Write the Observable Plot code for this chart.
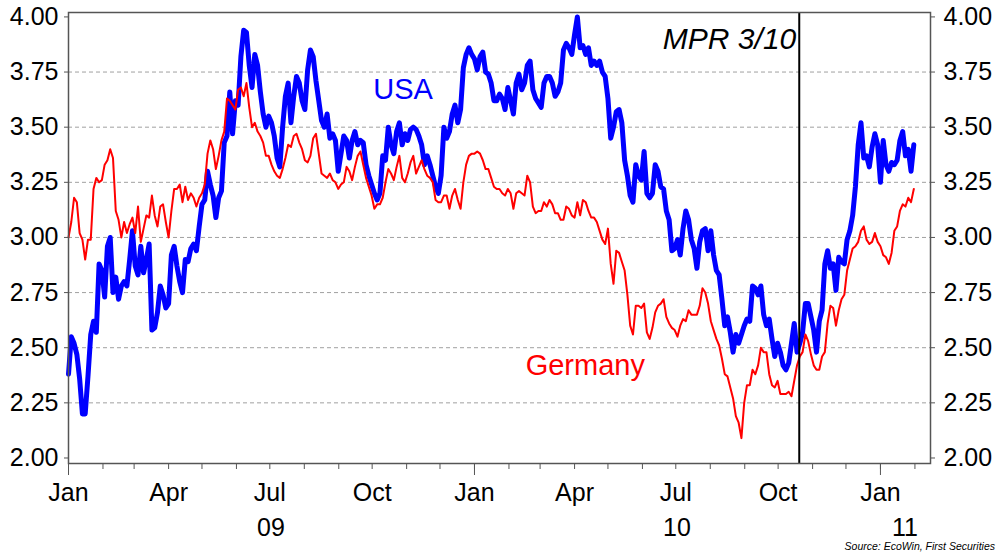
<!DOCTYPE html>
<html><head><meta charset="utf-8">
<script src="https://cdn.jsdelivr.net/npm/d3@7"></script>
<script src="https://cdn.jsdelivr.net/npm/@observablehq/plot@0.6"></script>
<style>
body{margin:0;background:#fff;width:1000px;height:552px;overflow:hidden;font-family:"Liberation Sans",Arial,sans-serif}
#caption{height:12px;line-height:12px;font-size:10.5px;font-style:italic;text-align:right;padding-right:5px;color:#000}
</style></head><body><div id="chart"></div><div id="caption">Source: EcoWin, First Securities</div>
<script>
// Observations on even 5-day marks
const datesA = [
"2009-01-01","2009-01-06","2009-01-11","2009-01-16","2009-01-21","2009-01-26","2009-01-31",
"2009-02-05","2009-02-10","2009-02-15","2009-02-20","2009-02-25",
"2009-03-02","2009-03-07","2009-03-12","2009-03-17","2009-03-22","2009-03-27",
"2009-04-01","2009-04-06","2009-04-11","2009-04-16","2009-04-21","2009-04-26",
"2009-05-01","2009-05-06","2009-05-11","2009-05-16","2009-05-21","2009-05-26","2009-05-31",
"2009-06-05","2009-06-10","2009-06-15","2009-06-20","2009-06-25","2009-06-30",
"2009-07-05","2009-07-10","2009-07-15","2009-07-20","2009-07-25","2009-07-30",
"2009-08-04","2009-08-09","2009-08-14","2009-08-19","2009-08-24","2009-08-29",
"2009-09-03","2009-09-08","2009-09-13","2009-09-18","2009-09-23","2009-09-28",
"2009-10-03","2009-10-08","2009-10-13","2009-10-18","2009-10-23","2009-10-28",
"2009-11-02","2009-11-07","2009-11-12","2009-11-17","2009-11-22","2009-11-27",
"2009-12-02","2009-12-07","2009-12-12","2009-12-17","2009-12-22","2009-12-27",
"2010-01-01","2010-01-06","2010-01-11","2010-01-16","2010-01-21","2010-01-26","2010-01-31",
"2010-02-05","2010-02-10","2010-02-15","2010-02-20","2010-02-25",
"2010-03-02","2010-03-07","2010-03-12","2010-03-17","2010-03-22","2010-03-27",
"2010-04-01","2010-04-06","2010-04-11","2010-04-16","2010-04-21","2010-04-26",
"2010-05-01","2010-05-06","2010-05-11","2010-05-16","2010-05-21","2010-05-26","2010-05-31",
"2010-06-05","2010-06-10","2010-06-15","2010-06-20","2010-06-25","2010-06-30",
"2010-07-05","2010-07-10","2010-07-15","2010-07-20","2010-07-25","2010-07-30",
"2010-08-04","2010-08-09","2010-08-14","2010-08-19","2010-08-24","2010-08-29",
"2010-09-03","2010-09-08","2010-09-13","2010-09-18","2010-09-23","2010-09-28",
"2010-10-03","2010-10-08","2010-10-13","2010-10-18","2010-10-23","2010-10-28",
"2010-11-02","2010-11-07","2010-11-12","2010-11-17","2010-11-22","2010-11-27",
"2010-12-02","2010-12-07","2010-12-12","2010-12-17","2010-12-22","2010-12-27",
"2011-01-01","2011-01-06","2011-01-11","2011-01-16","2011-01-21","2011-01-26","2011-01-31"
];
const usaA = [
2.38,2.52,2.36,2.20,2.56,2.57,2.85,
2.96,2.75,2.72,2.80,2.90,
2.87,2.96,2.90,2.58,2.66,2.74,
2.70,2.96,2.80,2.90,2.95,2.94,
3.15,3.30,3.19,3.18,3.43,3.66,3.62,
3.82,3.93,3.68,3.78,3.56,3.55,
3.46,3.32,3.64,3.52,3.73,3.62,
3.76,3.82,3.62,3.50,3.45,3.44,
3.38,3.44,3.44,3.42,3.43,3.28,
3.20,3.20,3.35,3.42,3.48,3.42,
3.44,3.50,3.46,3.33,3.33,3.23,
3.28,3.45,3.56,3.52,3.77,3.86,
3.81,3.82,3.75,3.70,3.62,3.63,3.68,
3.56,3.74,3.70,3.80,3.63,
3.59,3.73,3.70,3.66,3.85,3.86,
3.92,3.86,3.83,3.78,3.78,3.75,
3.63,3.50,3.58,3.35,3.19,3.33,3.26,
3.20,3.20,3.30,3.22,3.08,2.95,
2.92,3.12,2.99,2.86,3.03,2.94,
2.92,2.83,2.60,2.57,2.56,2.56,
2.63,2.78,2.74,2.65,2.63,2.46,
2.48,2.40,2.52,2.48,2.57,2.70,
2.58,2.62,2.88,2.86,2.76,2.89,
2.99,3.10,3.42,3.36,3.32,3.47,
3.25,3.33,3.34,3.35,3.48,3.40,3.42
];
const germanyA = [
3.00,3.18,3.02,2.90,2.99,3.27,3.26,
3.35,3.36,3.08,3.07,3.06,
3.02,2.98,3.10,3.19,3.05,3.15,
3.00,3.22,3.24,3.23,3.20,3.14,
3.20,3.38,3.40,3.37,3.48,3.62,3.58,
3.68,3.70,3.50,3.48,3.43,3.37,
3.30,3.27,3.36,3.41,3.47,3.40,
3.34,3.45,3.38,3.28,3.29,3.25,
3.24,3.32,3.26,3.37,3.33,3.23,
3.13,3.15,3.25,3.29,3.32,3.27,
3.29,3.37,3.32,3.31,3.27,3.17,
3.16,3.19,3.19,3.17,3.25,3.37,
3.38,3.38,3.31,3.27,3.22,3.20,3.22,
3.13,3.21,3.19,3.25,3.11,
3.12,3.14,3.15,3.11,3.08,3.13,
3.09,3.10,3.16,3.09,3.07,2.99,
3.04,2.79,2.93,2.85,2.60,2.69,2.68,
2.57,2.59,2.69,2.72,2.61,2.58,
2.60,2.62,2.65,2.65,2.77,2.70,
2.58,2.51,2.38,2.32,2.19,2.09,
2.33,2.40,2.42,2.48,2.38,2.32,
2.29,2.29,2.28,2.42,2.48,2.53,
2.42,2.40,2.48,2.69,2.60,2.72,
2.85,2.95,2.98,3.05,2.97,3.02,
2.96,2.91,2.93,3.05,3.15,3.18,3.22
];
// Observations half-way between those marks
const datesB = [
"2009-01-03","2009-01-08","2009-01-13","2009-01-18","2009-01-23","2009-01-28","2009-02-02",
"2009-02-07","2009-02-12","2009-02-17","2009-02-22","2009-02-27",
"2009-03-04","2009-03-09","2009-03-14","2009-03-19","2009-03-24","2009-03-29",
"2009-04-03","2009-04-08","2009-04-13","2009-04-18","2009-04-23","2009-04-28",
"2009-05-03","2009-05-08","2009-05-13","2009-05-18","2009-05-23","2009-05-28","2009-06-02",
"2009-06-07","2009-06-12","2009-06-17","2009-06-22","2009-06-27","2009-07-02",
"2009-07-07","2009-07-12","2009-07-17","2009-07-22","2009-07-27","2009-08-01",
"2009-08-06","2009-08-11","2009-08-16","2009-08-21","2009-08-26","2009-08-31",
"2009-09-05","2009-09-10","2009-09-15","2009-09-20","2009-09-25","2009-09-30",
"2009-10-05","2009-10-10","2009-10-15","2009-10-20","2009-10-25","2009-10-30",
"2009-11-04","2009-11-09","2009-11-14","2009-11-19","2009-11-24","2009-11-29",
"2009-12-04","2009-12-09","2009-12-14","2009-12-19","2009-12-24","2009-12-29",
"2010-01-03","2010-01-08","2010-01-13","2010-01-18","2010-01-23","2010-01-28","2010-02-02",
"2010-02-07","2010-02-12","2010-02-17","2010-02-22","2010-02-27",
"2010-03-04","2010-03-09","2010-03-14","2010-03-19","2010-03-24","2010-03-29",
"2010-04-03","2010-04-08","2010-04-13","2010-04-18","2010-04-23","2010-04-28",
"2010-05-03","2010-05-08","2010-05-13","2010-05-18","2010-05-23","2010-05-28","2010-06-02",
"2010-06-07","2010-06-12","2010-06-17","2010-06-22","2010-06-27","2010-07-02",
"2010-07-07","2010-07-12","2010-07-17","2010-07-22","2010-07-27","2010-08-01",
"2010-08-06","2010-08-11","2010-08-16","2010-08-21","2010-08-26","2010-08-31",
"2010-09-05","2010-09-10","2010-09-15","2010-09-20","2010-09-25","2010-09-30",
"2010-10-05","2010-10-10","2010-10-15","2010-10-20","2010-10-25","2010-10-30",
"2010-11-04","2010-11-09","2010-11-14","2010-11-19","2010-11-24","2010-11-29",
"2010-12-04","2010-12-09","2010-12-14","2010-12-19","2010-12-24","2010-12-29",
"2011-01-03","2011-01-08","2011-01-13","2011-01-18","2011-01-23","2011-01-28"
];
const usaB = [
2.55,2.47,2.20,2.37,2.62,2.88,2.73,
3.00,2.82,2.78,2.78,3.03,
2.83,2.84,2.97,2.59,2.78,2.68,
2.92,2.87,2.75,2.89,2.97,3.05,
3.17,3.24,3.09,3.21,3.46,3.47,3.60,
3.94,3.78,3.83,3.66,3.50,3.52,
3.36,3.50,3.70,3.64,3.70,3.58,
3.85,3.71,3.53,3.56,3.47,3.30,
3.46,3.36,3.48,3.44,3.33,3.24,
3.17,3.37,3.50,3.38,3.52,3.47,
3.49,3.49,3.42,3.37,3.28,3.20,
3.50,3.48,3.60,3.58,3.83,3.83,
3.76,3.84,3.74,3.62,3.65,3.58,3.62,
3.70,3.67,3.78,3.67,3.61,
3.70,3.73,3.64,3.70,3.88,3.83,
4.00,3.87,3.86,3.80,3.80,3.73,
3.45,3.57,3.52,3.28,3.16,3.28,3.39,
3.18,3.33,3.23,3.12,2.94,2.99,
3.04,3.08,2.95,2.98,3.04,3.03,
2.85,2.72,2.64,2.48,2.52,2.60,
2.62,2.77,2.78,2.60,2.54,2.52,
2.42,2.43,2.61,2.52,2.70,2.64,
2.48,2.67,2.94,2.88,2.91,2.88,
3.03,3.23,3.52,3.37,3.41,3.42,
3.44,3.30,3.33,3.44,3.37,3.30
];
const germanyB = [
3.07,3.16,2.99,2.99,3.22,3.25,3.33,
3.40,3.12,3.00,3.02,3.09,
3.14,3.04,3.09,3.10,3.14,3.07,
3.12,3.22,3.16,3.17,3.18,3.18,
3.24,3.44,3.31,3.44,3.63,3.60,3.67,
3.64,3.59,3.52,3.46,3.37,3.33,
3.28,3.31,3.42,3.46,3.43,3.35,
3.37,3.47,3.29,3.27,3.26,3.22,
3.25,3.30,3.32,3.39,3.27,3.19,
3.15,3.18,3.31,3.26,3.37,3.25,
3.34,3.29,3.35,3.28,3.25,3.16,
3.19,3.13,3.22,3.13,3.33,3.38,
3.39,3.35,3.31,3.23,3.22,3.19,3.20,
3.20,3.20,3.28,3.14,3.12,
3.16,3.17,3.11,3.08,3.14,3.10,
3.16,3.17,3.12,3.09,3.03,2.97,
2.88,2.94,2.89,2.74,2.56,2.69,2.70,
2.54,2.66,2.70,2.64,2.59,2.55,
2.63,2.67,2.65,2.69,2.75,2.62,
2.54,2.45,2.37,2.27,2.16,2.25,
2.33,2.38,2.50,2.48,2.33,2.35,
2.29,2.30,2.35,2.46,2.56,2.47,
2.40,2.46,2.61,2.68,2.67,2.74,
2.90,2.96,3.03,2.99,2.98,2.98,
2.92,2.88,3.03,3.12,3.14,3.16
];
const yTicks = [2.00, 2.25, 2.50, 2.75, 3.00, 3.25, 3.50, 3.75, 4.00];
const gridValues = [2.25, 2.50, 2.75, 3.00, 3.25, 3.50, 3.75];
const quarterTicks = ["2009-01-01","2009-04-01","2009-07-01","2009-10-01","2010-01-01","2010-04-01","2010-07-01","2010-10-01","2011-01-01"];
const janTicks = ["2009-01-01","2010-01-01","2011-01-01"];
const yearLabelDates = ["2009-07-02","2010-07-02","2011-01-23"];
const yearLabels = ["09","10","11"];
const mprDate = "2010-10-20";
const annotations = [
  {label: "USA", date: "2009-10-02", value: 3.67, color: "#0000ff"},
  {label: "Germany", date: "2010-02-16", value: 2.42, color: "#ff0000"}
];
const mprLabel = [{label: "MPR 3/10", date: mprDate, value: 3.90}];

const parse = d3.utcParse("%Y-%m-%d");
const halfDay = 12 * 3600 * 1000;
const data = [
  ...datesA.map((d, i) => ({date: parse(d), usa: usaA[i], germany: germanyA[i]})),
  ...datesB.map((d, i) => ({date: new Date(+parse(d) + halfDay), usa: usaB[i], germany: germanyB[i]}))
].sort((a, b) => a.date - b.date);
const monthTicks = d3.utcMonth.range(parse("2009-01-01"), parse("2011-02-16"));
const years = yearLabelDates.map((d, i) => ({date: parse(d), label: yearLabels[i]}));

const chart = Plot.plot({
  width: 1000,
  height: 540,
  marginLeft: 68,
  marginRight: 70,
  marginTop: 12,
  marginBottom: 77,
  style: {fontFamily: "'Liberation Sans', Arial, sans-serif", background: "white", color: "black"},
  x: {type: "utc", domain: [parse("2009-01-01"), parse("2011-02-15")]},
  y: {domain: [1.975, 4.02]},
  marks: [
    Plot.ruleY(gridValues, {stroke: "#a0a0a0", strokeWidth: 1, strokeDasharray: "4,3"}),
    Plot.lineY(data, {x: "date", y: "usa", stroke: "#0000ff", strokeWidth: 5}),
    Plot.lineY(data, {x: "date", y: "germany", stroke: "#ff0000", strokeWidth: 2}),
    Plot.ruleX([parse(mprDate)], {stroke: "black", strokeWidth: 2}),
    Plot.frame({stroke: "#555", strokeWidth: 1.5}),
    Plot.text(annotations, {x: d => parse(d.date), y: "value", text: "label", fill: d => d.color, textAnchor: "start", fontSize: 29}),
    Plot.text(mprLabel, {x: d => parse(d.date), y: "value", text: "label", fill: "black", textAnchor: "end", dx: -3, fontSize: 30, fontStyle: "italic"}),
    Plot.axisY({anchor: "left", ticks: yTicks, tickSize: 4, tickPadding: 6, tickFormat: d3.format(".2f"), fontSize: 25, stroke: "#555", fill: "black", label: null}),
    Plot.axisY({anchor: "right", ticks: yTicks, tickSize: 4, tickPadding: 9, tickFormat: d3.format(".2f"), fontSize: 25, stroke: "#555", fill: "black", label: null}),
    Plot.axisX({ticks: monthTicks, tickSize: 6, tickFormat: () => "", stroke: "#555", label: null}),
    Plot.axisX({ticks: janTicks.map(parse), tickSize: 12, tickFormat: () => "", stroke: "#555", label: null}),
    Plot.axisX({ticks: quarterTicks.map(parse), tickSize: 0, tickPadding: 20, tickFormat: d3.utcFormat("%b"), fontSize: 25, fill: "black", label: null}),
    Plot.text(years, {x: "date", text: "label", frameAnchor: "bottom", lineAnchor: "top", dy: 55, fontSize: 25, fill: "black"})
  ]
});
document.getElementById("chart").appendChild(chart);
</script></body></html>
